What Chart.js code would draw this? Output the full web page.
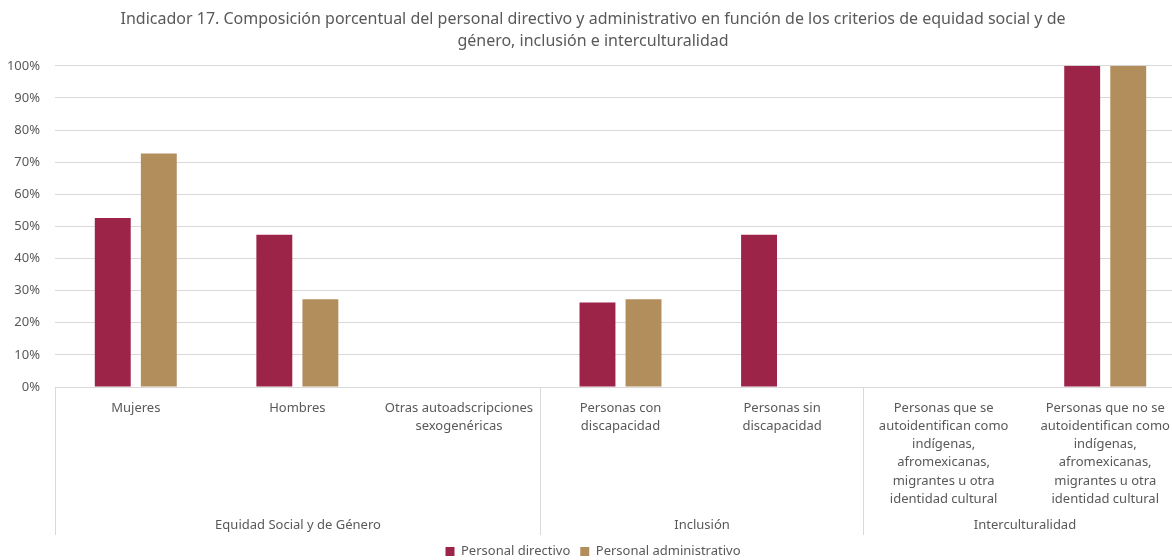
<!DOCTYPE html>
<html lang="es">
<head>
<meta charset="utf-8">
<title>Indicador 17</title>
<script src="https://cdn.jsdelivr.net/npm/chart.js@4.4.1/dist/chart.umd.min.js"></script>
<style>
  html, body { margin: 0; padding: 0; background: #fff; overflow: hidden; }
  #wrap { width: 1186px; height: 560px; position: relative; }
</style>
</head>
<body>
<div id="wrap"><canvas id="chart"></canvas></div>
<script>
const titleLines = [
  'Indicador 17. Composición porcentual del personal directivo y administrativo en función de los criterios de equidad social y de',
  'género, inclusión e interculturalidad'
];

const categories = [
  ['Mujeres'],
  ['Hombres'],
  ['Otras autoadscripciones', 'sexogenéricas'],
  ['Personas con', 'discapacidad'],
  ['Personas sin', 'discapacidad'],
  ['Personas que se', 'autoidentifican como', 'indígenas,', 'afromexicanas,', 'migrantes u otra', 'identidad cultural'],
  ['Personas que no se', 'autoidentifican como', 'indígenas,', 'afromexicanas,', 'migrantes u otra', 'identidad cultural']
];

const groupNames = ['Equidad Social y de Género', 'Inclusión', 'Interculturalidad'];
const groupSizes = [3, 2, 2];

const directivo = [52.6, 47.4, 0, 26.3, 47.4, 0, 100];
const administrativo = [72.7, 27.3, 0, 27.3, 0, 0, 100];

const yTicks = [0, 10, 20, 30, 40, 50, 60, 70, 80, 90, 100];

const textColor = '#595959';
const lineColor = '#d9d9d9';
const fontFamily = '"Noto Sans", "Open Sans", sans-serif';

// second row of the category axis: group names and the separators between groups
const groupAxis = {
  id: 'groupAxis',
  afterDraw(chart) {
    const x = chart.scales.x;
    const ctx = chart.ctx;
    const half = (x.getPixelForValue(1) - x.getPixelForValue(0)) / 2;
    const top = x.top;
    const bottom = x.bottom;
    ctx.save();
    ctx.strokeStyle = lineColor;
    ctx.lineWidth = 1;
    ctx.fillStyle = textColor;
    ctx.font = '13px ' + fontFamily;
    ctx.textAlign = 'center';
    ctx.textBaseline = 'middle';

    let start = 0;
    const edge = (i) => Math.round(x.getPixelForValue(i) - half) + 0.5;
    ctx.beginPath();
    ctx.moveTo(edge(0), top);
    ctx.lineTo(edge(0), bottom);
    ctx.stroke();
    groupNames.forEach((name, g) => {
      const end = start + groupSizes[g];
      const left = edge(start);
      const right = edge(end);
      ctx.beginPath();
      ctx.moveTo(right, top);
      ctx.lineTo(right, bottom);
      ctx.stroke();
      ctx.fillText(name, (left + right) / 2, bottom - 10);
      start = end;
    });
    ctx.restore();
  }
};

new Chart(document.getElementById('chart'), {
  type: 'bar',
  data: {
    labels: categories,
    datasets: [
      {
        label: 'Personal directivo',
        data: directivo,
        backgroundColor: '#9D2449',
        categoryPercentage: 0.57,
        barPercentage: 0.78
      },
      {
        label: 'Personal administrativo',
        data: administrativo,
        backgroundColor: '#B38E5D',
        categoryPercentage: 0.57,
        barPercentage: 0.78
      }
    ]
  },
  options: {
    responsive: true,
    maintainAspectRatio: false,
    animation: false,
    layout: { padding: { left: 0, right: 0, top: 0, bottom: -8 } },
    plugins: {
      title: {
        display: true,
        text: titleLines,
        color: textColor,
        font: { family: fontFamily, size: 16, weight: 'normal', lineHeight: 1.4 },
        padding: { top: 8, bottom: 13 }
      },
      legend: {
        position: 'bottom',
        labels: {
          color: textColor,
          font: { family: fontFamily, size: 13 },
          boxWidth: 9,
          boxHeight: 9,
          padding: 10
        }
      },
      tooltip: { enabled: false }
    },
    scales: {
      x: {
        grid: { display: false, drawTicks: false },
        border: { display: true, color: lineColor },
        ticks: {
          color: textColor,
          font: { family: fontFamily, size: 13, lineHeight: 1.4 },
          maxRotation: 0,
          autoSkip: false,
          padding: 12
        },
        afterFit(scale) { scale.height = 148; }
      },
      y: {
        min: 0,
        max: 100,
        afterBuildTicks(scale) { scale.ticks = yTicks.map(v => ({ value: v })); },
        grid: { color: lineColor, drawTicks: false },
        border: { display: false },
        ticks: {
          color: textColor,
          font: { family: fontFamily, size: 13 },
          padding: 15,
          callback: v => v + '%'
        },
        afterFit(scale) { scale.width = 55; }
      }
    }
  },
  plugins: [groupAxis]
});
</script>
</body>
</html>
